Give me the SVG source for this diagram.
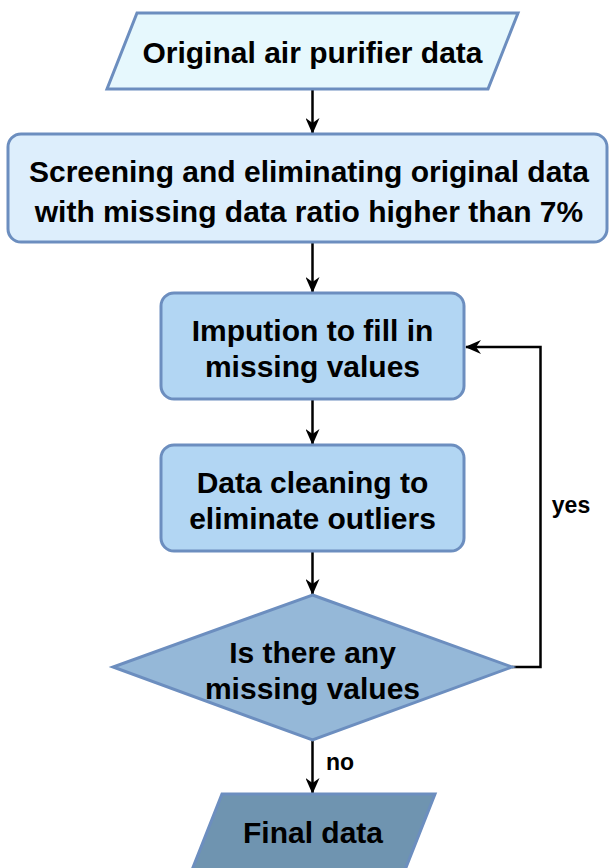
<svg xmlns="http://www.w3.org/2000/svg" width="611" height="868" viewBox="0 0 611 868">
  <defs>
    <marker id="arrow" viewBox="0 0 16 14" refX="15" refY="7" markerWidth="16" markerHeight="14" markerUnits="userSpaceOnUse" orient="auto">
      <path d="M0,0 L16,7 L0,14 L5,7 Z" fill="#000"/>
    </marker>
    <style>
      .shape { stroke: #6c8ebf; stroke-width: 3; }
      .label { font-family: "Liberation Sans", Arial, sans-serif; font-weight: bold; font-size: 30px; fill: #000; text-anchor: middle; }
      .edge-label { font-family: "Liberation Sans", Arial, sans-serif; font-weight: bold; font-size: 23px; fill: #000; text-anchor: middle; }
      .edge { fill: none; stroke: #000; stroke-width: 2.5; marker-end: url(#arrow); }
    </style>
  </defs>

  <rect width="611" height="868" fill="#fff"/>

  <g id="connectors">
    <line class="edge" x1="312.5" y1="89" x2="312.5" y2="133"/>
    <line class="edge" x1="312.5" y1="243" x2="312.5" y2="292"/>
    <line class="edge" x1="312.5" y1="399" x2="312.5" y2="444"/>
    <line class="edge" x1="312.5" y1="551" x2="312.5" y2="594"/>
    <line class="edge" x1="312.5" y1="740" x2="312.5" y2="793"/>
    <polyline class="edge" points="512,667 540.5,667 540.5,347 466,347"/>
    <text class="edge-label" x="571" y="513">yes</text>
    <text class="edge-label" x="340" y="770">no</text>
  </g>

  <g id="node-input">
    <polygon class="shape" points="137,13 518,13 488,89 107,89" fill="#e6f8fd"/>
    <text class="label" x="312.5" y="63">Original air purifier data</text>
  </g>

  <g id="node-screening">
    <rect class="shape" x="8" y="134" width="599" height="108" rx="13" fill="#ddeefc"/>
    <text class="label" x="309" y="182">Screening and eliminating original data</text>
    <text class="label" x="309" y="222">with missing data ratio higher than 7%</text>
  </g>

  <g id="node-imputation">
    <rect class="shape" x="161" y="293" width="303" height="106" rx="13" fill="#b2d6f3"/>
    <text class="label" x="312.5" y="341">Impution to fill in</text>
    <text class="label" x="312.5" y="377">missing values</text>
  </g>

  <g id="node-cleaning">
    <rect class="shape" x="161" y="445" width="303" height="106" rx="13" fill="#b2d6f3"/>
    <text class="label" x="312.5" y="493">Data cleaning to</text>
    <text class="label" x="312.5" y="529">eliminate outliers</text>
  </g>

  <g id="node-decision">
    <polygon class="shape" points="312.5,595 512,667 312.5,740 113,667" fill="#95b8d8"/>
    <text class="label" x="312.5" y="663">Is there any</text>
    <text class="label" x="312.5" y="699">missing values</text>
  </g>

  <g id="node-output">
    <polygon class="shape" points="222,794 435,794 405,870 192,870" fill="#6f94b0"/>
    <text class="label" x="313" y="843">Final data</text>
  </g>
</svg>
